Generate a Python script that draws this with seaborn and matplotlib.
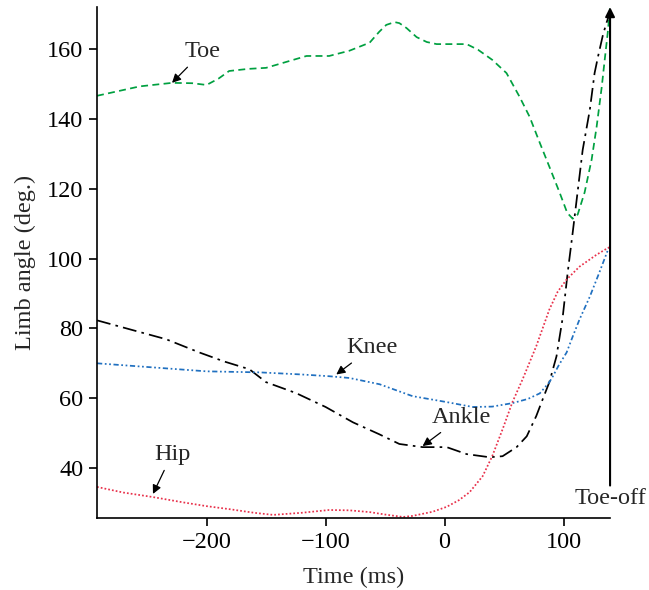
import matplotlib.pyplot as plt
import seaborn as sns

# limb angle traces (time in ms, angle in deg.)
toe_t = [-292, -256, -229, -212, -200, -190, -181, -165, -150, -133, -116, -97, -80, -63, -55,
         -49, -42, -38, -32, -23.5, -15, -6.7, 10, 18.5, 28, 40, 52, 63, 71.4, 80, 88, 96.6,
         103, 107.6, 111.8, 117.6, 123.5, 127.7, 132, 134.5, 137, 139]
toe_a = [146.6, 149.3, 150.3, 150.2, 149.7, 151.5, 153.7, 154.3, 154.6, 156.3, 158.0, 158.0,
         159.5, 161.8, 164.9, 166.9, 167.7, 167.4, 166.0, 163.4, 162.0, 161.4, 161.4, 161.4,
         159.8, 156.9, 153.1, 146.3, 140.6, 133.1, 126.3, 118.9, 113.1, 111.4, 112.6, 118.9,
         128.3, 137.7, 149.1, 156.9, 164.5, 172.0]

ankle_t = [-292, -262, -234, -206, -185, -164, -150, -125, -100, -77, -55, -38, -18.5, 1.7,
           18.5, 37.8, 48.7, 60.5, 69, 77, 82.4, 88, 94, 99, 103.4, 107.6, 111, 116, 122, 126,
           129, 133, 136, 139]
ankle_a = [82.3, 79.5, 76.9, 73.1, 70.5, 68.3, 64.6, 61.5, 57.5, 53.1, 49.7, 46.9, 46.0, 46.0,
           44.0, 43.1, 43.4, 46.0, 49.1, 54.9, 59.7, 64.6, 72.0, 82.6, 96.0, 107.4, 117.0,
           131.1, 142.6, 153.1, 158.0, 164.0, 167.5, 170.5]

knee_t = [-292, -248, -200, -155, -120, -97, -80, -63, -54.6, -27, 1.7, 23.5, 40, 57, 70, 80,
          88, 91, 96, 102.5, 108, 113.4, 122, 130, 137.8]
knee_a = [70.0, 68.9, 67.7, 67.4, 66.8, 66.3, 65.8, 64.6, 64.0, 60.6, 58.9, 57.5, 57.6, 58.6,
          59.8, 61.4, 64.6, 66.3, 69.5, 73.1, 78.0, 82.6, 89.1, 96.0, 103.0]

hip_t = [-292, -270, -245, -220, -200, -180, -160, -144, -120, -97, -80, -63, -50, -35, -27,
         -10, 1.7, 12, 21, 32, 40, 48.7, 57, 65.5, 77, 88, 95, 102.5, 113.4, 127.7, 137, 139]
hip_a = [34.6, 33.0, 31.7, 30.2, 29.1, 28.2, 27.2, 26.6, 27.2, 28.0, 27.9, 27.4, 26.7, 26.0,
         26.3, 27.5, 28.9, 30.8, 33.1, 37.7, 43.4, 51.1, 58.9, 65.4, 74.9, 85.4, 90.5, 94.0,
         97.7, 101.1, 103.0, 103.3]

x_ticks = [-200, -100, 0, 100]
x_tick_labels = ['\u2212200', '\u2212100', '0', '100']
y_ticks = [40, 60, 80, 100, 120, 140, 160]

sns.set_theme(style="ticks")
plt.rcParams['font.family'] = ['Liberation Serif', 'DejaVu Serif']
fs = 17.5

fig = plt.figure(figsize=(6.49, 5.90), dpi=100)
ax = fig.add_axes([0.1495, 0.122, 0.7905, 0.866])

lw = 1.25
sns.lineplot(x=toe_t, y=toe_a, ax=ax, color='#00a040', lw=lw, sort=False,
             linestyle=(0, (4, 2.5)))
sns.lineplot(x=ankle_t, y=ankle_a, ax=ax, color='black', lw=lw, sort=False,
             linestyle=(0, (8, 3, 1.5, 3)))
sns.lineplot(x=knee_t, y=knee_a, ax=ax, color='#2070c0', lw=lw, sort=False,
             linestyle=(0, (3, 1.5, 1, 1.5, 1, 1.5)))
sns.lineplot(x=hip_t, y=hip_a, ax=ax, color='#e8304a', lw=lw, sort=False,
             linestyle=(0, (1, 1.2)))

arrow = dict(arrowstyle='-|>', color='black', lw=0.9, mutation_scale=13, shrinkA=2, shrinkB=0)
ax.annotate('Toe', xy=(-229, 150.3), xytext=(-203, 159.3), ha='center', va='center',
            fontsize=fs, arrowprops=arrow)
ax.annotate('Knee', xy=(-91, 66.8), xytext=(-61, 74.5), ha='center', va='center',
            fontsize=fs, arrowprops=arrow)
ax.annotate('Ankle', xy=(-18.5, 46.3), xytext=(14, 54.6), ha='center', va='center',
            fontsize=fs, arrowprops=arrow)
ax.annotate('Hip', xy=(-245, 32.6), xytext=(-229, 44.0), ha='center', va='center',
            fontsize=fs, arrowprops=arrow)

# toe-off marker
ax.annotate('', xy=(139, 172), xytext=(139, 35), annotation_clip=False,
            arrowprops=dict(arrowstyle='-|>', color='black', lw=1.5, mutation_scale=14,
                            shrinkA=0, shrinkB=0))
ax.text(139, 31.2, 'Toe-off', ha='center', va='center', fontsize=fs)

ax.set_xlim(-292, 139)
ax.set_ylim(25.7, 172)
ax.set_xticks(x_ticks)
ax.set_xticklabels(x_tick_labels)
ax.set_yticks(y_ticks)
ax.set_xlabel('Time (ms)', fontsize=fs, labelpad=10)
ax.set_ylabel('Limb angle (deg.)', fontsize=fs, labelpad=8)
ax.tick_params(direction='out', length=6, width=1.2, labelsize=fs, colors='black', pad=4)
sns.despine(ax=ax)
for s in ['left', 'bottom']:
    ax.spines[s].set_linewidth(1.2)
    ax.spines[s].set_color('black')

fig.savefig('out.png', dpi=100)
